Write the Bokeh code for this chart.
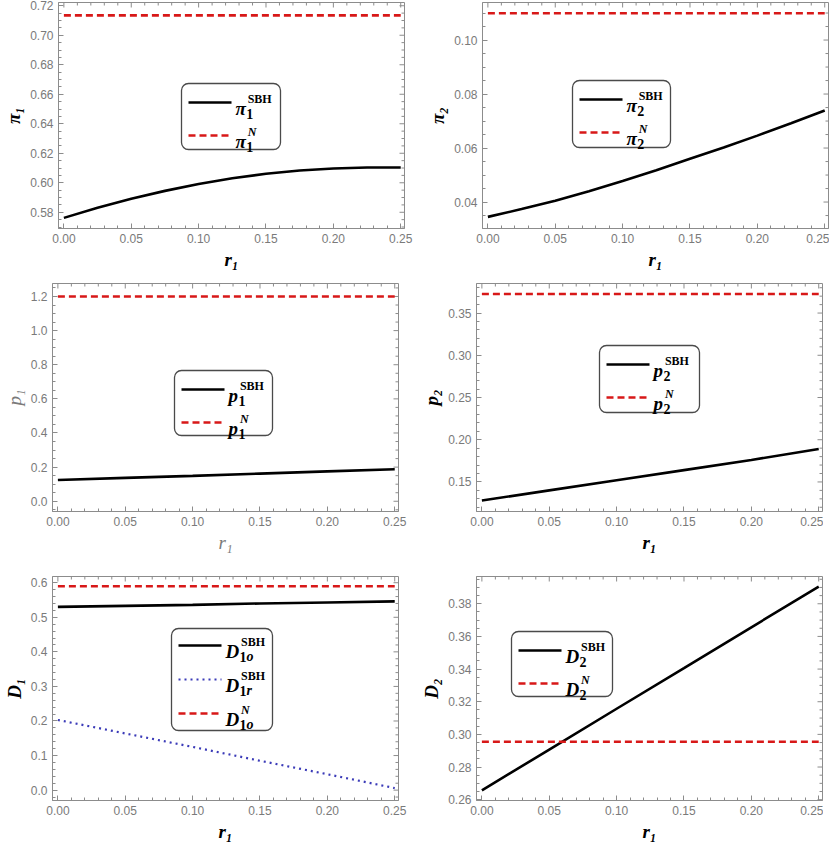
import math
from bokeh.plotting import figure
from bokeh.layouts import column, row
from bokeh.models import (Range1d, LinearAxis, SingleIntervalTicker,
                          NumeralTickFormatter, BoxAnnotation)
from bokeh.core.properties import value
from bokeh.embed import file_html
from bokeh.resources import INLINE

# ---------------- data ----------------
r1_fine = [0.00, 0.025, 0.05, 0.075, 0.10, 0.125, 0.15, 0.175, 0.20, 0.225, 0.25]
r1 = [0.00, 0.05, 0.10, 0.15, 0.20, 0.25]
r1_ends = [0.00, 0.25]

pi1_sbh = [0.5762, 0.5830, 0.5891, 0.5945, 0.5992, 0.6031, 0.6061, 0.6083, 0.6097, 0.6104, 0.6103]
pi1_n = [0.7135, 0.7135]

pi2_sbh = [0.0345, 0.0374, 0.0405, 0.0440, 0.0478, 0.0518, 0.0560, 0.0602, 0.0646, 0.0692, 0.0739]
pi2_n = [0.1099, 0.1099]

p1_sbh = [0.125, 0.137, 0.149, 0.162, 0.175, 0.188]
p1_n = [1.20, 1.20]

p2_sbh = [0.128, 0.140, 0.152, 0.164, 0.176, 0.189]
p2_n = [0.3725, 0.3725]

d1o_sbh = [0.530, 0.533, 0.536, 0.540, 0.543, 0.546]
d1r_sbh = [0.203, 0.164, 0.125, 0.085, 0.046, 0.006]
d1o_n = [0.590, 0.590]

d2_sbh = [0.2657, 0.2907, 0.3157, 0.3406, 0.3656, 0.3905]
d2_n = [0.2955, 0.2955]

x_tick_step = 0.05
x_minor = 5

# ---------------- styles ----------------
FRAME_W = 346
X_RANGE = (-0.004, 0.2528)
GRAY = "#8c8c8c"
TICK_TXT = "#7a7a7a"
SERIF = "Liberation Serif"
STY = {
    "solid": dict(line_color="black", line_width=2.6),
    "dash": dict(line_color="#d81818", line_width=2.6, line_dash="7 4"),
    "dot": dict(line_color="#3b3bb8", line_width=2.2, line_dash="2 4"),
}
# approximate advance widths (em) for legend glyph placement
EM = {"π": 0.56, "p": 0.52, "D": 0.74, "1": 0.5, "2": 0.5, "o": 0.5, "r": 0.42}
F_MAIN, F_SUB, F_SUP = 19, 14, 12


def tick_values(lo, hi, step, nminor):
    m = step / nminor
    k0 = math.ceil(lo / m - 1e-9)
    k1 = math.floor(hi / m + 1e-9)
    major, minor = [], []
    for k in range(k0, k1 + 1):
        (major if k % nminor == 0 else minor).append(k * m)
    return major, minor


def style_axis(ax, interval, minor, fmt):
    ax.ticker = SingleIntervalTicker(interval=interval, num_minor_ticks=minor)
    ax.formatter = NumeralTickFormatter(format=fmt)
    ax.axis_line_color = GRAY
    ax.major_tick_line_color = GRAY
    ax.minor_tick_line_color = GRAY
    ax.major_tick_in = 5
    ax.major_tick_out = 0
    ax.minor_tick_in = 3
    ax.minor_tick_out = 0
    ax.major_label_text_color = TICK_TXT
    ax.major_label_text_font = "Liberation Sans"
    ax.major_label_text_font_size = "12px"
    ax.major_label_standoff = 5


def add_frame_ticks(p, fh, yrange, yint, yminor):
    # inward ticks on the top and right frame edges (Mathematica style frame)
    for vals, ln in zip(tick_values(X_RANGE[0], X_RANGE[1], x_tick_step, x_minor), (5, 3)):
        p.segment(x0=vals, x1=vals, y0=[fh] * len(vals), y1=[fh - ln] * len(vals),
                  y_range_name="lg", line_color=GRAY, line_width=1)
    for vals, ln in zip(tick_values(yrange[0], yrange[1], yint, yminor), (5, 3)):
        p.segment(x0=[FRAME_W] * len(vals), x1=[FRAME_W - ln] * len(vals), y0=vals, y1=vals,
                  x_range_name="lg", line_color=GRAY, line_width=1)


def add_legend(p, fh, left, top, w, h, items, pitch, first):
    box = BoxAnnotation(left=left, right=left + w, top=fh - top, bottom=fh - top - h,
                        x_range_name="lg", y_range_name="lg",
                        fill_color="white", fill_alpha=1.0,
                        line_color="#4a4a4a", line_alpha=1.0, line_width=1.3,
                        border_radius=7)
    p.add_layout(box)
    for i, (sty, base, subs, sup, sup_style) in enumerate(items):
        yc = top + first + i * pitch
        r = p.line([left + 7, left + 50], [fh - yc, fh - yc],
                   x_range_name="lg", y_range_name="lg", **STY[sty])
        r.level = "overlay"
        x0 = left + 54
        pieces = [(base, x0, yc + 6, F_MAIN, "bold italic")]
        xs = x0 + EM[base] * F_MAIN
        for t, st in subs:
            pieces.append((t, xs, yc + 11, F_SUB, st))
            xs += EM[t] * F_SUB
        pieces.append((sup, x0 + EM[base] * F_MAIN + 1.5, yc - 4, F_SUP, sup_style))
        for t, x, y, fs, st in pieces:
            g = p.text(x=[x], y=[fh - y], text=[t], x_range_name="lg", y_range_name="lg",
                       text_font=value(SERIF), text_font_style=st, text_font_size=f"{fs}px",
                       text_baseline="alphabetic", text_align="left", text_color="black")
            g.level = "overlay"


def make_panel(series, ylabel, yrange, yint, yminor, yfmt, fh, borders, legend,
               label_color="black", label_style="bold italic"):
    bl, br, bt, bb = borders
    p = figure(frame_width=FRAME_W, frame_height=fh,
               x_range=Range1d(*X_RANGE), y_range=Range1d(*yrange),
               x_axis_type=None, y_axis_type=None,
               output_backend="svg", toolbar_location=None,
               min_border_left=bl, min_border_right=br,
               min_border_top=bt, min_border_bottom=bb)
    p.extra_x_ranges["lg"] = Range1d(0, FRAME_W)
    p.extra_y_ranges["lg"] = Range1d(0, fh)
    p.outline_line_color = GRAY
    p.background_fill_color = "white"
    p.border_fill_color = "white"

    xa = LinearAxis(axis_label="r₁")
    style_axis(xa, x_tick_step, x_minor, "0.00")
    p.add_layout(xa, "below")
    ya = LinearAxis(axis_label=ylabel)
    style_axis(ya, yint, yminor, yfmt)
    p.add_layout(ya, "left")
    for ax in (xa, ya):
        ax.axis_label_text_font = SERIF
        ax.axis_label_text_font_style = label_style
        ax.axis_label_text_font_size = "19px"
        ax.axis_label_text_color = label_color
        ax.axis_label_standoff = 3

    add_frame_ticks(p, fh, yrange, yint, yminor)
    for xs, ys, sty in series:
        p.line(xs, ys, **STY[sty])
    add_legend(p, fh, **legend)
    return p


# row geometry: (top border, frame height, bottom border)
ROWS = [(2, 226, 41), (11, 228, 41), (21, 224, 41)]
LB = (50, 16)   # left column: left / right borders
RB = (62, 1)    # right column

pa = make_panel([(r1_fine, pi1_sbh, "solid"), (r1_ends, pi1_n, "dash")],
                "π₁", (0.569, 0.7222), 0.02, 4, "0.00", ROWS[0][1],
                (LB[0], LB[1], ROWS[0][0], ROWS[0][2]),
                dict(left=123, top=81, w=99, h=66, pitch=33, first=19,
                     items=[("solid", "π", [("1", "bold")], "SBH", "bold"),
                            ("dash", "π", [("1", "bold")], "N", "bold italic")]))

pb = make_panel([(r1_fine, pi2_sbh, "solid"), (r1_ends, pi2_n, "dash")],
                "π₂", (0.0302, 0.1139), 0.02, 4, "0.00", ROWS[0][1],
                (RB[0], RB[1], ROWS[0][0], ROWS[0][2]),
                dict(left=90, top=78, w=98, h=67, pitch=33, first=19,
                     items=[("solid", "π", [("2", "bold")], "SBH", "bold"),
                            ("dash", "π", [("2", "bold")], "N", "bold italic")]))

pc = make_panel([(r1, p1_sbh, "solid"), (r1_ends, p1_n, "dash")],
                "p₁", (-0.06, 1.276), 0.2, 4, "0.0", ROWS[1][1],
                (LB[0], LB[1], ROWS[1][0], ROWS[1][2]),
                dict(left=122, top=87, w=98, h=65, pitch=33, first=19,
                     items=[("solid", "p", [("1", "bold")], "SBH", "bold"),
                            ("dash", "p", [("1", "bold")], "N", "bold italic")]),
                label_color=TICK_TXT, label_style="italic")

pd = make_panel([(r1, p2_sbh, "solid"), (r1_ends, p2_n, "dash")],
                "p₂", (0.1150, 0.3850), 0.05, 5, "0.00", ROWS[1][1],
                (RB[0], RB[1], ROWS[1][0], ROWS[1][2]),
                dict(left=123, top=62, w=100, h=67, pitch=33, first=19,
                     items=[("solid", "p", [("2", "bold")], "SBH", "bold"),
                            ("dash", "p", [("2", "bold")], "N", "bold italic")]))

pe = make_panel([(r1, d1o_sbh, "solid"), (r1, d1r_sbh, "dot"), (r1_ends, d1o_n, "dash")],
                "D₁", (-0.03, 0.618), 0.1, 5, "0.0", ROWS[2][1],
                (LB[0], LB[1], ROWS[2][0], ROWS[2][2]),
                dict(left=119, top=52, w=101, h=102, pitch=34, first=17,
                     items=[("solid", "D", [("1", "bold"), ("o", "bold italic")], "SBH", "bold"),
                            ("dot", "D", [("1", "bold"), ("r", "bold italic")], "SBH", "bold"),
                            ("dash", "D", [("1", "bold"), ("o", "bold italic")], "N", "bold italic")]))

pf = make_panel([(r1, d2_sbh, "solid"), (r1_ends, d2_n, "dash")],
                "D₂", (0.2595, 0.3967), 0.02, 4, "0.00", ROWS[2][1],
                (RB[0], RB[1], ROWS[2][0], ROWS[2][2]),
                dict(left=35, top=55, w=101, h=65, pitch=33, first=19,
                     items=[("solid", "D", [("2", "bold")], "SBH", "bold"),
                            ("dash", "D", [("2", "bold")], "N", "bold italic")]))

layout = column(row(pa, pb), row(pc, pd), row(pe, pf))

with open("out.html", "w") as f:
    f.write(file_html(layout, INLINE))
